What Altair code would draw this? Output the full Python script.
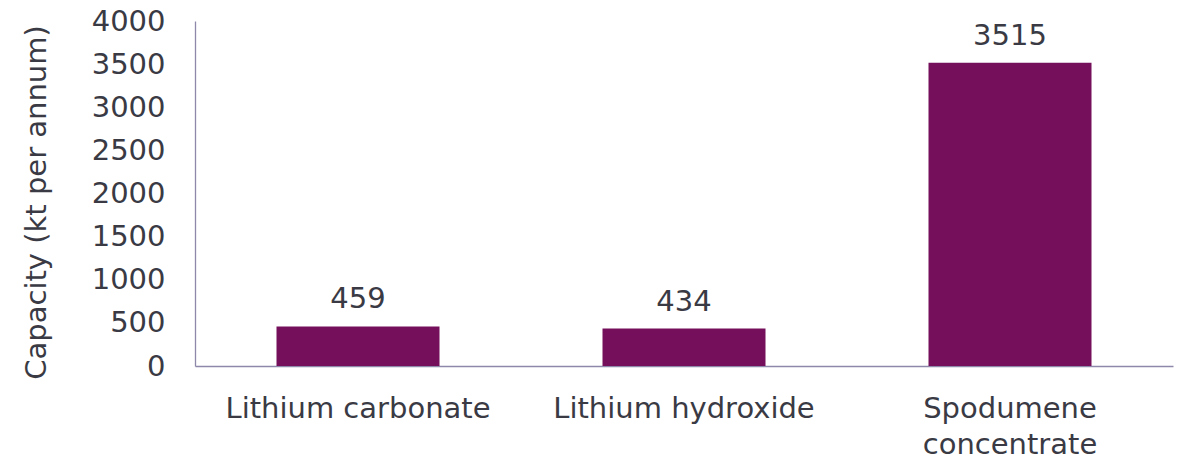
import altair as alt
import pandas as pd

categories = ["Lithium carbonate", "Lithium hydroxide", "Spodumene concentrate"]
capacity = [459, 434, 3515]
y_ticks = [0, 500, 1000, 1500, 2000, 2500, 3000, 3500, 4000]

df = pd.DataFrame({"category": categories, "capacity": capacity})

FONT = "DejaVu Sans"
TXT = "#3a3a44"
AXC = "#8e88aa"
BAR = "#750f5b"

x = alt.X(
    "category:N",
    sort=categories,
    scale=alt.Scale(paddingInner=0.5, paddingOuter=0.25),
    axis=alt.Axis(
        title=None,
        labelAngle=0,
        labelFont=FONT,
        labelFontSize=29,
        labelColor=TXT,
        labelBaseline="middle",
        labelPadding=42,
        labelLineHeight=36,
        labelLimit=0,
        labelExpr="length(datum.label) > 20 ? split(datum.label, ' ') : datum.label",
        ticks=False,
        domainColor=AXC,
        domainWidth=1.3,
        grid=False,
    ),
)
y = alt.Y(
    "capacity:Q",
    scale=alt.Scale(domain=[0, 4000], nice=False),
    axis=alt.Axis(
        title="Capacity (kt per annum)",
        values=y_ticks,
        format="d",
        labelFont=FONT,
        labelFontSize=29,
        labelColor=TXT,
        labelPadding=30,
        ticks=False,
        grid=False,
        domainColor=AXC,
        domainWidth=1.3,
        titleFont=FONT,
        titleFontSize=29,
        titleFontWeight="normal",
        titleColor=TXT,
        titleAngle=270,
        titleX=-159,
        titleY=181,
        titleAlign="center",
        titleBaseline="middle",
    ),
)

base = alt.Chart(df).encode(x=x, y=y)
bars = base.mark_bar(color=BAR)
labels = base.mark_text(
    font=FONT, fontSize=29, color=TXT, baseline="alphabetic", dy=-18
).encode(text="capacity:Q")

chart = (
    (bars + labels)
    .properties(
        width=978,
        height=345,
        autosize=alt.AutoSizeParams(type="none"),
        padding={"left": 187, "top": 13, "right": 3, "bottom": 96},
    )
    .configure_view(stroke=None)
)

chart.save("out.html", embed_options={"renderer": "svg", "actions": False})
